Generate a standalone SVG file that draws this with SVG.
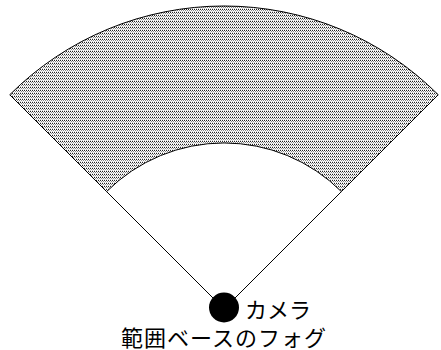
<svg xmlns="http://www.w3.org/2000/svg" width="441" height="350" viewBox="0 0 441 350">
  <style>
    .edge { stroke: #000; stroke-width: 1; fill: none; }
    .lbl { font-family: "Liberation Sans", "Noto Sans CJK JP", sans-serif; font-size: 22px; fill: #000; }
  </style>
  <defs>
    <pattern id="dots" width="2" height="3" patternUnits="userSpaceOnUse">
      <rect width="2" height="3" fill="#fff"/>
      <rect x="0" y="0" width="1" height="1" fill="#222"/>
      <rect x="1" y="1" width="1" height="1" fill="#888"/>
      <rect x="0" y="2" width="1" height="1" fill="#ccc"/>
    </pattern>
  </defs>
  <rect width="441" height="350" fill="#fff"/>
  <g id="fog">
    <path d="M9.75,94.75 A303,303 0 0 1 438.25,94.75 L341.4,191.6 A166,166 0 0 0 106.6,191.6 Z" fill="url(#dots)" stroke="#000" stroke-width="1"/>
  </g>
  <g id="connectors">
    <line class="edge" x1="106.6" y1="191.6" x2="224" y2="309"/>
    <line class="edge" x1="341.4" y1="191.6" x2="224" y2="309"/>
  </g>
  <g id="camera">
    <circle cx="224" cy="307.5" r="15" fill="#000"/>
    <text class="lbl" x="245" y="318">カメラ</text>
  </g>
  <g id="caption">
    <text class="lbl" x="224" y="346" text-anchor="middle" letter-spacing="1">範囲ベースのフォグ</text>
  </g>
</svg>
